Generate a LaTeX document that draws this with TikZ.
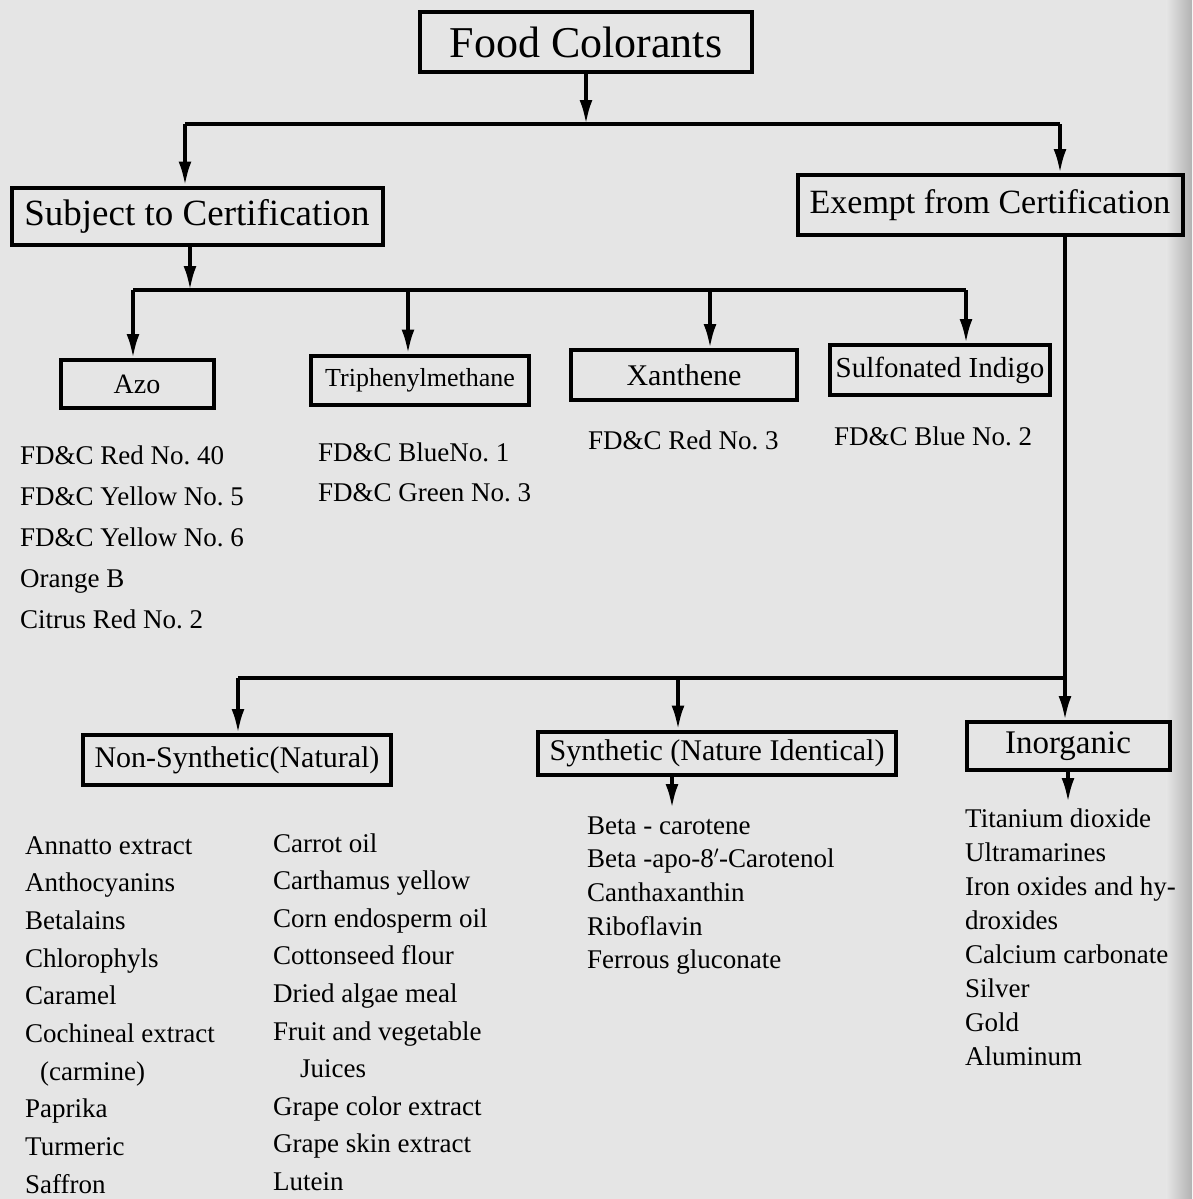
\documentclass[tikz,border=0pt]{standalone}
\usepackage{fontspec}
\setmainfont{Liberation Serif}
\usepackage{tikz}
\usetikzlibrary{backgrounds, calc, positioning}
\usetikzlibrary{arrows.meta}
\definecolor{paper}{gray}{0.90}
\frenchspacing

\tikzset{
  box/.style 2 args={draw, line width=4pt, inner sep=2pt, minimum width=#1, minimum height=#2},
  link/.style={line width=3.5pt},
  arrow/.style={link, -{Latex[length=24pt,width=13pt]}},
  item/.style={anchor=base west, inner sep=0pt, font=\fontsize{27}{30}\selectfont},
}

\begin{document}
\begin{tikzpicture}[x=1pt, y=-1pt]
  \fill[paper] (0,0) rectangle (1192,1199);
  \shade[left color=paper, right color=gray!60] (1166,0) rectangle (1192,1199);

  % boxes
  \node[box={332pt}{60pt}, font=\fontsize{44}{48}\selectfont] (foodcol) at (586,42) {Food Colorants};
  \node[box={371pt}{57pt}, font=\fontsize{37}{40}\selectfont] (subject) at (197,216) {Subject to Certification};
  \node[box={385pt}{60pt}, font=\fontsize{34}{38}\selectfont] (exempt) at (990,205) {Exempt from Certification};
  \node[box={153pt}{48pt}, font=\fontsize{28}{32}\selectfont] (azo) at (137,384) {Azo};
  \node[box={218pt}{49pt}, font=\fontsize{26}{30}\selectfont] (triphenyl) at (420,380) {Triphenylmethane};
  \node[box={226pt}{50pt}, font=\fontsize{30}{34}\selectfont] (xanthene) at (684,375) {Xanthene};
  \node[box={220pt}{50pt}, font=\fontsize{29}{33}\selectfont] (indigo) at (940,370) {Sulfonated Indigo};
  \node[box={308pt}{50pt}, font=\fontsize{30}{34}\selectfont] (natural) at (237,760) {Non-Synthetic(Natural)};
  \node[box={358pt}{43pt}, font=\fontsize{30}{34}\selectfont] (synthetic) at (717,753) {Synthetic (Nature Identical)};
  \node[box={203pt}{48pt}, font=\fontsize{33}{36}\selectfont] (inorganic) at (1068,746) {Inorganic};

  % first split
  \coordinate (topbar) at (586,124);
  \coordinate (topleft) at (185,124);
  \coordinate (topright) at (1060,124);
  \draw[link] (topleft) -- (topright);
  \draw[arrow] (foodcol) -- (topbar);
  \draw[arrow] (topleft) -- (topleft |- subject.north);
  \draw[arrow] (topright) -- (topright |- exempt.north);

  % certified groups
  \coordinate (midbar) at (190,290);
  \coordinate (midleft) at (133,290);
  \coordinate (midright) at (966,290);
  \draw[link] (midleft) -- (midright);
  \draw[arrow] (subject.south -| midbar) -- (midbar);
  \foreach \name/\xx in {azo/133, triphenyl/408, xanthene/710, indigo/966} {
    \coordinate (drop-\name) at (\xx,290);
    \draw[arrow] (drop-\name) -- (drop-\name |- \name.north);
  }

  % exempt groups
  \coordinate (lowleft) at (238,678);
  \coordinate (lowmid) at (678,678);
  \coordinate (lowright) at (1065,678);
  \draw[arrow] (exempt.south -| lowright) -- (inorganic.north -| lowright);
  \draw[link] (lowleft) -- (lowright);
  \draw[arrow] (lowleft) -- (lowleft |- natural.north);
  \draw[arrow] (lowmid) -- (lowmid |- synthetic.north);
  \coordinate (synlist) at (672,808);
  \coordinate (inolist) at (1068,802);
  \draw[arrow] (synlist |- synthetic.south) -- (synlist);
  \draw[arrow] (inorganic) -- (inolist);

  % lists
  \foreach \txt [count=\i] in {FD\&C Red No. 40, FD\&C Yellow No. 5, FD\&C Yellow No. 6, Orange B, Citrus Red No. 2}
    \node[item] (azo-\i) at (20, 464+41*\i-41) {\txt};
  \foreach \txt [count=\i] in {FD\&C BlueNo. 1, FD\&C Green No. 3}
    \node[item] (triphenyl-\i) at (318, 461+40*\i-40) {\txt};
  \node[item] (xanthene-1) at (588,449) {FD\&C Red No. 3};
  \node[item] (indigo-1) at (834,445) {FD\&C Blue No. 2};
  \foreach \txt [count=\i] in {Annatto extract, Anthocyanins, Betalains, Chlorophyls, Caramel, Cochineal extract, {\hspace*{15pt}(carmine)}, Paprika, Turmeric, Saffron}
    \node[item] (natural-a\i) at (25, 854+37.7*\i-37.7) {\txt};
  \foreach \txt [count=\i] in {Carrot oil, Carthamus yellow, Corn endosperm oil, Cottonseed flour, Dried algae meal, Fruit and vegetable, {\hspace*{27pt}Juices}, Grape color extract, Grape skin extract, Lutein}
    \node[item] (natural-b\i) at (273, 852+37.6*\i-37.6) {\txt};
  \foreach \txt [count=\i] in {Beta - carotene, Beta -apo-8$'$-Carotenol, Canthaxanthin, Riboflavin, Ferrous gluconate}
    \node[item] (synthetic-\i) at (587, 834+33.7*\i-33.7) {\txt};
  \foreach \txt [count=\i] in {Titanium dioxide, Ultramarines, Iron oxides and hy-, droxides, Calcium carbonate, Silver, Gold, Aluminum}
    \node[item] (inorganic-\i) at (965, 827+34.1*\i-34.1) {\txt};
\end{tikzpicture}
\end{document}
